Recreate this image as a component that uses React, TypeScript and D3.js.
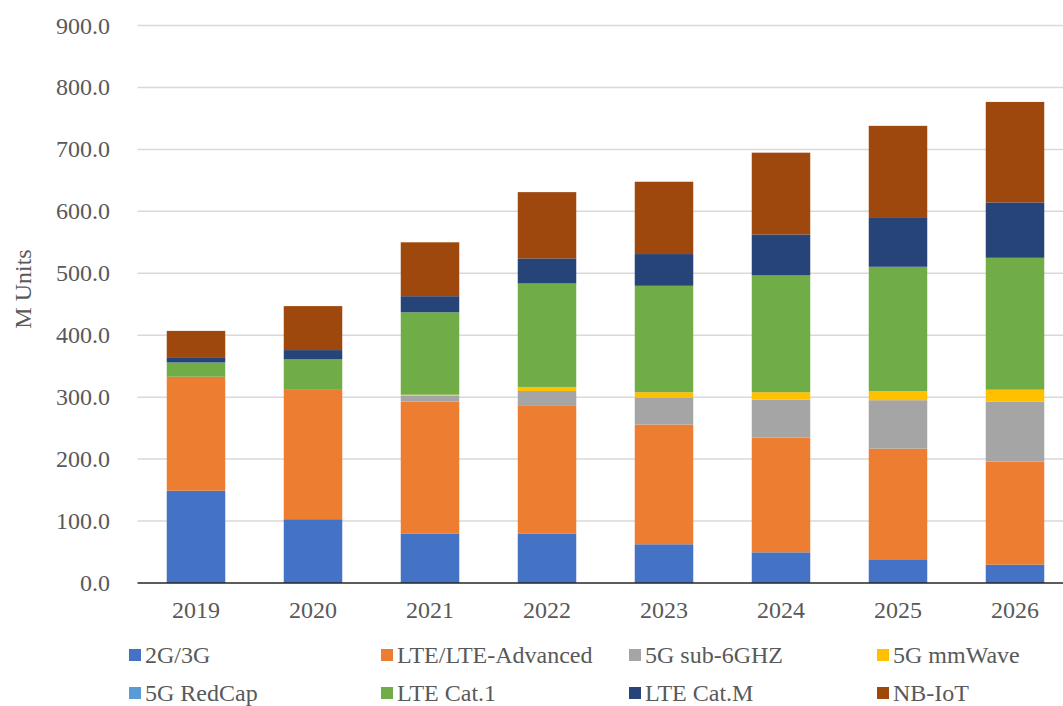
import React, { useEffect } from 'react';
import * as d3 from 'd3';

const YEARS = ['2019', '2020', '2021', '2022', '2023', '2024', '2025', '2026'];
const SERIES = ['2G/3G', 'LTE/LTE-Advanced', '5G sub-6GHZ', '5G mmWave', '5G RedCap', 'LTE Cat.1', 'LTE Cat.M', 'NB-IoT'];
const COLORS = ['#4472C4', '#ED7D31', '#A5A5A5', '#FFC000', '#5B9BD5', '#70AD47', '#264478', '#9E480E'];

const G2G3 = [149, 103, 80, 80, 62.5, 49.5, 38.3, 29.6];
const LTE = [184, 210, 213, 207, 193.3, 185.3, 178.7, 166.4];
const SUB6 = [0, 0, 9.5, 23, 43.6, 61.2, 78.1, 96.9];
const MMWAVE = [0, 0, 1.5, 6.5, 8.6, 12, 14.6, 18.9];
const REDCAP = [0, 0, 0, 0, 0, 0, 0, 1];
const CAT1 = [23, 48, 133, 167, 171.8, 188.5, 200.8, 212.2];
const CATM = [8.5, 15, 26, 40.5, 51.2, 66.2, 78.8, 89.4];
const NBIOT = [42.5, 71, 87, 107, 116.8, 132, 148.7, 162.2];

const VALUES = [G2G3, LTE, SUB6, MMWAVE, REDCAP, CAT1, CATM, NBIOT];
const Y_TICKS = [0, 100, 200, 300, 400, 500, 600, 700, 800, 900];

const W = 1063;
const H = 706;
const FONT = '"Liberation Serif", "Times New Roman", serif';
const FS = 24;

export default function App() {
  useEffect(() => {
    document.body.style.margin = '0';
  }, []);

  const x = d3.scaleBand<string>().domain(YEARS).range([137.5, 1073.5]).paddingInner(0.5).paddingOuter(0.25);
  const y = d3.scaleLinear().domain([0, 900]).range([583, 25.5]);

  const rows = YEARS.map((yr, i) => {
    const r: any = { year: yr };
    SERIES.forEach((s, k) => (r[s] = VALUES[k][i]));
    return r;
  });
  const stacked = d3.stack<any>().keys(SERIES)(rows);

  const legendCols = [145, 397, 645, 893];
  const legendRows = [655, 693];

  return (
    <svg width={W} height={H} style={{ display: 'block', fontFamily: FONT }}>
      <rect width={W} height={H} fill="#fff" />
      {/* grid */}
      {Y_TICKS.filter(t => t > 0).map(t => (
        <line key={t} x1={137.5} x2={W} y1={y(t)} y2={y(t)} stroke="#d9d9d9" strokeWidth={1.5} />
      ))}
      {/* y tick labels */}
      {Y_TICKS.map(t => (
        <text key={t} x={110} y={y(t) + 8} textAnchor="end" fontSize={FS} fill="#595959">
          {t.toFixed(1)}
        </text>
      ))}
      {/* bars */}
      {stacked.map((layer, k) => (
        <g key={SERIES[k]} fill={COLORS[k]}>
          {layer.map((d, i) =>
            d[1] - d[0] > 0 ? (
              <rect
                key={i}
                x={x(YEARS[i])}
                width={x.bandwidth()}
                y={y(d[1])}
                height={y(d[0]) - y(d[1])}
              />
            ) : null
          )}
        </g>
      ))}
      {/* x axis */}
      <line x1={137.5} x2={W} y1={583} y2={583} stroke="#262626" strokeWidth={1.5} />
      {YEARS.map(yr => (
        <text key={yr} x={(x(yr) as number) + x.bandwidth() / 2} y={618} textAnchor="middle" fontSize={FS} fill="#595959">
          {yr}
        </text>
      ))}
      {/* y title */}
      <text transform={`translate(31,289) rotate(-90)`} textAnchor="middle" fontSize={FS} fill="#595959">
        M Units
      </text>
      {/* legend */}
      {SERIES.map((s, k) => {
        const cx = legendCols[k % 4];
        const cy = legendRows[Math.floor(k / 4)];
        return (
          <g key={s}>
            <rect x={cx - 16} y={cy - 6} width={12} height={12} fill={COLORS[k]} />
            <text x={cx} y={cy + 8} fontSize={FS} fill="#595959">
              {s}
            </text>
          </g>
        );
      })}
    </svg>
  );
}
